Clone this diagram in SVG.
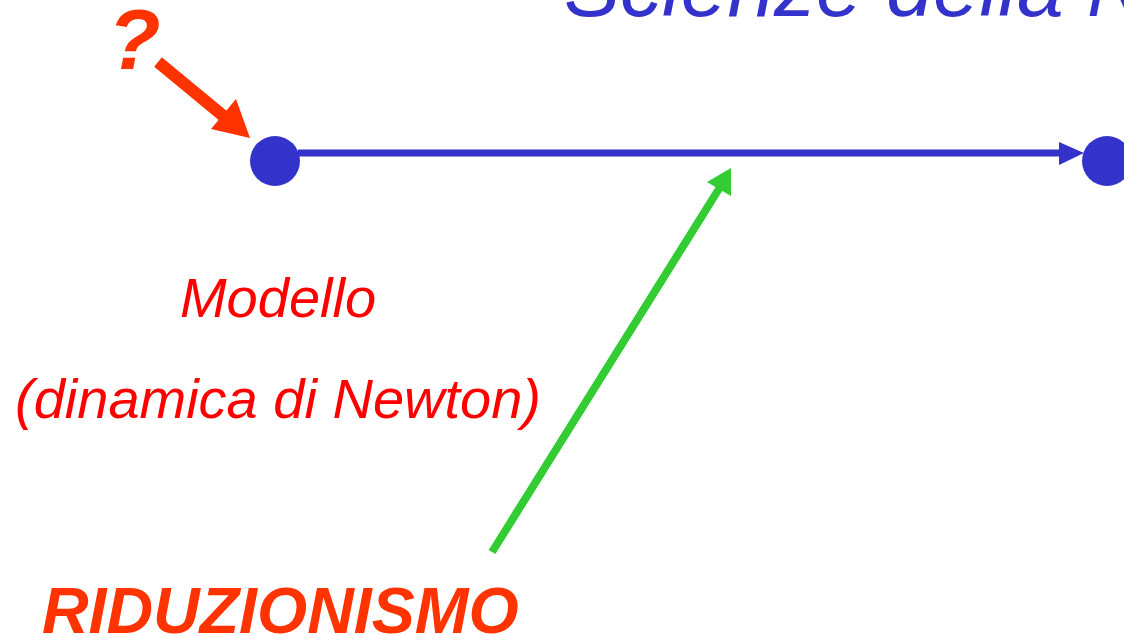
<svg xmlns="http://www.w3.org/2000/svg" width="1124" height="635" viewBox="0 0 1124 635">
<style>
.t{font-family:"Liberation Sans",Arial,sans-serif;font-style:italic}
.blue{fill:#3333CC}
.red{fill:#FF0000}
.orange{fill:#FF3300}
.green{fill:#33CC33}
</style>
<rect width="1124" height="635" fill="#FFFFFF"/>
<g id="title">
<text class="t blue" x="564" y="16" font-size="84">Scienze della Natura</text>
</g>
<g id="node-left">
<circle class="blue" cx="275" cy="161" r="25"/>
</g>
<g id="node-right">
<circle class="blue" cx="1107" cy="161" r="25"/>
</g>
<g id="label-modello">
<text class="t red" x="278" y="317" font-size="56" text-anchor="middle">Modello</text>
<text class="t red" x="278" y="418" font-size="56" text-anchor="middle">(dinamica di Newton)</text>
</g>
<g id="label-question">
<text class="t orange" x="108" y="69" font-size="86" font-weight="bold">?</text>
</g>
<g id="label-riduzionismo">
<text class="t orange" x="42" y="633" font-size="64.5" font-weight="bold">RIDUZIONISMO</text>
</g>
<g id="connectors">
<line x1="298" y1="153" x2="1062" y2="153" stroke="#3333CC" stroke-width="7"/>
<polygon class="blue" points="1059,142 1084,153 1059,165"/>
<line x1="158" y1="62" x2="227" y2="119" stroke="#FF3300" stroke-width="12"/>
<polygon class="orange" points="211,129 236,99 250,138"/>
<line x1="492" y1="552" x2="722" y2="184" stroke="#33CC33" stroke-width="8"/>
<polygon class="green" points="707,182 731,168 731,196"/>
</g>
</svg>
